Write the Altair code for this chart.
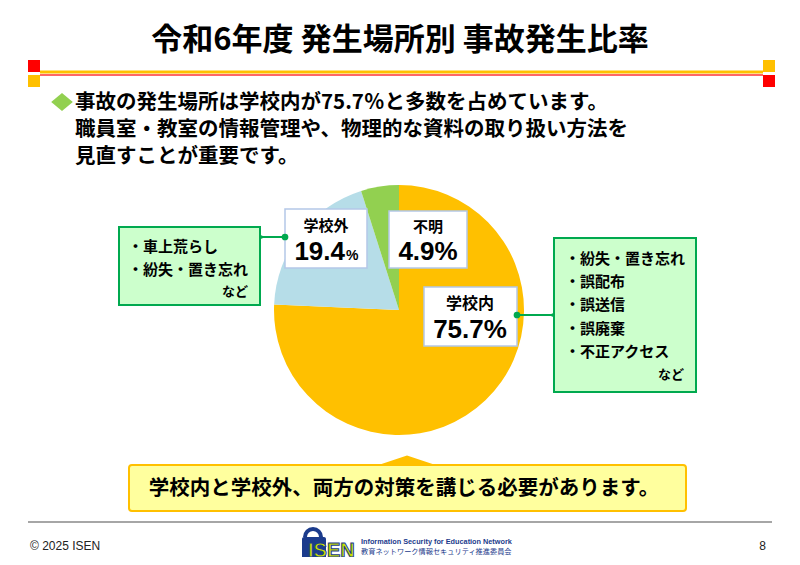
import altair as alt
import pandas as pd

# ---------------- data ----------------
categories = ["学校内", "学校外", "不明"]
values = [75.7, 19.4, 4.9]
slice_colors = ["#FFC000", "#B6DDE8", "#92D050"]

title_text = "令和6年度 発生場所別 事故発生比率"
bullet_lines = [
    "事故の発生場所は学校内が75.7％と多数を占めています。",
    "職員室・教室の情報管理や、物理的な資料の取り扱い方法を",
    "見直すことが重要です。",
]
inside_items = ["・紛失・置き忘れ", "・誤配布", "・誤送信", "・誤廃棄", "・不正アクセス"]
outside_items = ["・車上荒らし", "・紛失・置き忘れ"]
etc_text = "など"
label_in = ["学校内", "75.7%"]
label_out = ["学校外", "19.4", "%"]
label_unknown = ["不明", "4.9%"]
conclusion = "学校内と学校外、両方の対策を講じる必要があります。"
footer_left = "© 2025 ISEN"
page_number = "8"
logo_mark = "ISEN"
logo_en = "Information Security for Education Network"
logo_ja = "教育ネットワーク情報セキュリティ推進委員会"

# ---------------- helpers ----------------
W, H = 784, 549
JP = "Noto Sans CJK JP"
LAT = "Liberation Sans, Arial, sans-serif"
xs = alt.Scale(domain=[8, 8 + W], range=[0, W], nice=False, zero=False)
ys = alt.Scale(domain=[8, 8 + H], range=[0, H], nice=False, zero=False)


def X(f="x"):
    return alt.X(f"{f}:Q", scale=xs, axis=None)


def Y(f="y"):
    return alt.Y(f"{f}:Q", scale=ys, axis=None)


def texts(rows, align="center", weight="bold", font=JP, baseline="middle", **kw):
    df = pd.DataFrame(rows, columns=["t", "x", "y", "s", "c"])
    return alt.Chart(df).mark_text(
        align=align, baseline=baseline, fontWeight=weight, font=font, **kw
    ).encode(
        x=X(), y=Y(), text="t:N",
        size=alt.Size("s:Q", scale=None),
        fill=alt.Fill("c:N", scale=None),
    )


def rects(rows, **kw):
    df = pd.DataFrame(rows, columns=["x", "x2", "y", "y2", "f", "st", "sw"])
    return alt.Chart(df).mark_rect(**kw).encode(
        x=X(), x2="x2:Q", y=Y(), y2="y2:Q",
        fill=alt.Fill("f:N", scale=None),
        stroke=alt.Stroke("st:N", scale=None),
        strokeWidth=alt.StrokeWidth("sw:Q", scale=None),
    )


def rules(rows, color, width):
    df = pd.DataFrame(rows, columns=["x", "x2", "y", "y2"])
    return alt.Chart(df).mark_rule(color=color, strokeWidth=width).encode(
        x=X(), x2="x2:Q", y=Y(), y2="y2:Q"
    )


def dots(rows, size, color):
    df = pd.DataFrame(rows, columns=["x", "y"])
    return alt.Chart(df).mark_circle(size=size, color=color, opacity=1).encode(x=X(), y=Y())


GREEN = "#00A94F"
NAVY = "#1B3B8C"

# ---------------- header ----------------
header_sq = rects([
    [28, 40, 60, 72, "#FF0000", "#FF0000", 0],
    [28, 40, 75, 87, "#FFC000", "#FFC000", 0],
    [763, 775, 60, 72, "#FFC000", "#FFC000", 0],
    [763, 775, 75, 87, "#FF0000", "#FF0000", 0],
])
line_orange = rules([[40, 763, 72, 72]], "#FFC000", 3)
line_red = rules([[40, 763, 75, 75]], "#FF3333", 1.5)
title = texts([[title_text, 400, 41, 31, "#000000"]])

diamond = alt.Chart(pd.DataFrame({"x": [62], "y": [102]})).mark_point(
    shape="M-1.2,0L0,-1L1.2,0L0,1Z", size=324, filled=True, color="#92D050", opacity=1
).encode(x=X(), y=Y())
bullets = texts(
    [[t, 75, 103 + 27 * i, 20.5, "#000000"] for i, t in enumerate(bullet_lines)],
    align="left",
)

# ---------------- pie ----------------
pie_df = pd.DataFrame({"cat": categories, "val": values, "ord": list(range(len(values)))})
pie = alt.Chart(pie_df).mark_arc(radius=125).encode(
    theta=alt.Theta("val:Q", stack=True),
    color=alt.Color("cat:N", scale=alt.Scale(domain=categories, range=slice_colors), legend=None),
    order=alt.Order("ord:Q"),
    x=alt.value(399 - 8),
    y=alt.value(310 - 8),
)

# ---------------- boxes ----------------
label_boxes = rects([
    [285, 367, 209, 268, "#FFFFFF", "#B4C7E7", 1.5],
    [389, 467, 211, 268, "#FFFFFF", "#B4C7E7", 1.5],
    [424, 517, 287, 346, "#FFFFFF", "#B4C7E7", 1.5],
    [119, 260, 227, 305, "#CCFFCC", GREEN, 2],
    [554, 696, 238, 392, "#CCFFCC", GREEN, 2],
])
connectors = rules([[260, 285, 237, 237], [517, 554, 315, 315]], GREEN, 2)
big_dots = dots([[285, 237], [517, 315]], 45, GREEN)
small_dots = dots([[261, 237], [553, 315]], 14, GREEN)

label_titles = texts([
    [label_out[0], 326, 226, 15, "#000000"],
    [label_unknown[0], 428, 227, 15, "#000000"],
    [label_in[0], 470, 304, 16, "#000000"],
])
label_vals = texts([
    [label_unknown[1], 428, 260, 26, "#000000"],
    [label_in[1], 470, 338, 26, "#000000"],
], baseline="alphabetic", font=LAT)
out_val = texts([[label_out[1], 345, 260, 26, "#000000"]], align="right",
                baseline="alphabetic", font=LAT)
out_pct = texts([[label_out[2], 346, 260, 14, "#000000"]], align="left",
                baseline="alphabetic", font=LAT)

items_right = texts(
    [[t, 565, 259 + 23.2 * i, 15, "#000000"] for i, t in enumerate(inside_items)]
    + [[t, 128, 247 + 23 * i, 15, "#000000"] for i, t in enumerate(outside_items)],
    align="left",
)
etc_labels = texts([
    [etc_text, 684, 375, 13, "#000000"],
    [etc_text, 248, 292, 13, "#000000"],
], align="right")

# ---------------- conclusion ----------------
callout = rects([[129, 686, 465, 511, "#FFFF9E", "#FFC000", 2]], cornerRadius=3)
triangle = alt.Chart(pd.DataFrame({"x": [407], "y": [460.5]})).mark_point(
    shape="M-3,0.5L0,-0.5L3,0.5Z", size=400, filled=True, color="#FFC000", opacity=1
).encode(x=X(), y=Y())
concl = texts([[conclusion, 404, 489, 20.5, "#000000"]])

# ---------------- footer ----------------
footer_line = rules([[28, 772, 522, 522]], "#A6A6A6", 2)
footer_txt_l = texts([[footer_left, 30, 546, 12, "#222222"]], align="left",
                     weight="normal", font=LAT)
footer_txt_r = texts([[page_number, 766, 546, 12, "#222222"]], align="right",
                     weight="normal", font=LAT)

lock_body = rects([[302, 326, 537, 559, NAVY, NAVY, 0]], cornerRadius=2)
shackle_a = alt.Chart(pd.DataFrame({"x": [313], "y": [537]})).mark_arc(
    radius=10, radius2=6, theta=4.7124, theta2=6.2832, color=NAVY
).encode(x=X(), y=Y())
shackle_b = alt.Chart(pd.DataFrame({"x": [313], "y": [537]})).mark_arc(
    radius=10, radius2=6, theta=0, theta2=1.5708, color=NAVY
).encode(x=X(), y=Y())
logo_letters = texts([[logo_mark, 308, 557, 20, "#C8E000"]], align="left",
                     baseline="alphabetic", font=LAT, stroke=NAVY, strokeWidth=1)
logo_en_t = texts([[logo_en, 361, 542, 7.3, NAVY]], align="left", font=LAT)
logo_ja_t = texts([[logo_ja, 361, 552, 7.2, NAVY]], align="left", weight="normal")

chart = alt.layer(
    header_sq, line_orange, line_red, title, diamond, bullets,
    pie, label_boxes, connectors, big_dots, small_dots,
    label_titles, label_vals, out_val, out_pct, items_right, etc_labels,
    triangle, callout, concl,
    footer_line, footer_txt_l, footer_txt_r,
    shackle_a, shackle_b, lock_body, logo_letters, logo_en_t, logo_ja_t,
).properties(
    width=W, height=H, padding=0, autosize=alt.AutoSizeParams(type="none"),
    background="#FFFFFF",
).configure_view(stroke=None)

chart.save("out.html", embed_options={"renderer": "svg", "actions": False})
